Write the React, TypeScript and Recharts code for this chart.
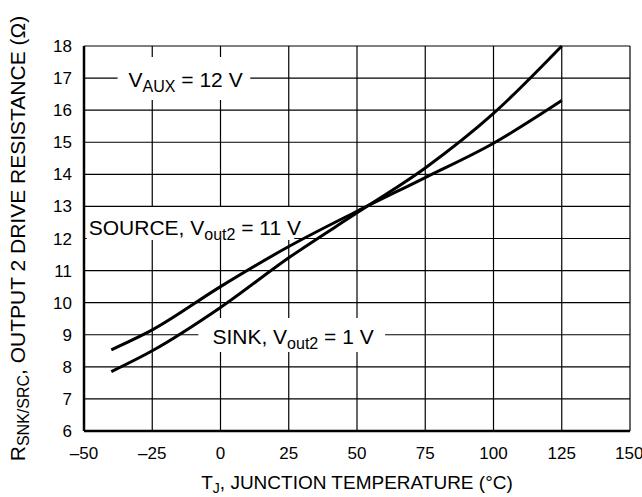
import { LineChart, Line, XAxis, YAxis, CartesianGrid, ReferenceArea, Label } from 'recharts';

// junction temperature (°C) and drive resistance (Ω)
const tempC = [-40, -25, 0, 25, 50, 75, 100, 125];
const sourceOhm = [8.53, 9.15, 10.5, 11.75, 12.85, 13.9, 14.97, 16.3];
const sinkOhm = [7.85, 8.5, 9.85, 11.4, 12.8, 14.2, 15.9, 18.0];

const xTicks = [-50, -25, 0, 25, 50, 75, 100, 125, 150];
const yTicks = [6, 7, 8, 9, 10, 11, 12, 13, 14, 15, 16, 17, 18];

const sourceData = tempC.map((t, i) => ({ t, r: sourceOhm[i] }));
const sinkData = tempC.map((t, i) => ({ t, r: sinkOhm[i] }));

const FONT = '"Liberation Sans", Arial, Helvetica, sans-serif';

function Note(props: any) {
    const { viewBox, main, sub, rest, dx, dy } = props;
    if (!viewBox) return null;
    return (
        <text x={viewBox.x + dx} y={viewBox.y + dy} fontFamily={FONT} fontSize={21} fill="#000">
            <tspan>{main}</tspan>
            <tspan fontSize={16} dy={5}>{sub}</tspan>
            <tspan dy={-5}>{rest}</tspan>
        </text>
    );
}

function XTitle(props: any) {
    const { viewBox } = props;
    return (
        <text x={viewBox.x + viewBox.width / 2} y={viewBox.y + 58} textAnchor="middle" fontFamily={FONT} fontSize={19} fill="#000">
            <tspan>T</tspan>
            <tspan fontSize={14} dy={4}>J</tspan>
            <tspan dy={-4}>, JUNCTION TEMPERATURE (°C)</tspan>
        </text>
    );
}

function YTitle(props: any) {
    const { viewBox } = props;
    const cx = 25;
    const cy = viewBox.y + viewBox.height / 2;
    return (
        <text x={cx} y={cy} transform={`rotate(-90 ${cx} ${cy})`} textAnchor="middle" fontFamily={FONT} fontSize={21} fill="#000">
            <tspan>R</tspan>
            <tspan fontSize={16} dy={4}>SNK/SRC</tspan>
            <tspan dy={-4}>, OUTPUT 2 DRIVE RESISTANCE (Ω)</tspan>
        </text>
    );
}

export default function App() {
    return (
        <div style={{ width: 642, height: 497, background: '#fff' }}>
            <style>{'body{margin:0;}'}</style>
            <LineChart width={642} height={497} margin={{ top: 46, right: 12, bottom: 0, left: 0 }}>
                <CartesianGrid stroke="#000" strokeWidth={1.2} />
                <XAxis
                    type="number"
                    dataKey="t"
                    domain={[-50, 150]}
                    ticks={xTicks}
                    allowDuplicatedCategory={false}
                    height={66}
                    tickLine={false}
                    tickMargin={10}
                    axisLine={{ stroke: '#000', strokeWidth: 2.5 }}
                    tick={{ fill: '#000', fontSize: 17, fontFamily: FONT }}
                    tickFormatter={(v: number) => (v < 0 ? `–${Math.abs(v)}` : `${v}`)}
                >
                    <Label content={<XTitle />} />
                </XAxis>
                <YAxis
                    type="number"
                    domain={[6, 18]}
                    ticks={yTicks}
                    width={84}
                    tickLine={false}
                    tickMargin={6}
                    axisLine={{ stroke: '#000', strokeWidth: 2.5 }}
                    tick={{ fill: '#000', fontSize: 17, fontFamily: FONT }}
                >
                    <Label content={<YTitle />} />
                </YAxis>

                <ReferenceArea x1={-37.7} x2={10.9} y1={16.32} y2={17.66} fill="#fff" fillOpacity={1} stroke="none"
                    label={<Note main="V" sub="AUX" rest=" = 12 V" dx={11} dy={30} />} />
                <ReferenceArea x1={-49} x2={27} y1={11.95} y2={12.98} fill="#fff" fillOpacity={1} stroke="none"
                    label={<Note main="SOURCE, V" sub="out2" rest=" = 11 V" dx={2} dy={28} />} />
                <ReferenceArea x1={-8.1} x2={60.3} y1={8.46} y2={9.52} fill="#fff" fillOpacity={1} stroke="none"
                    label={<Note main="SINK, V" sub="out2" rest=" = 1 V" dx={14} dy={26} />} />

                <Line data={sourceData} dataKey="r" type="monotone" stroke="#000" strokeWidth={3} dot={false} isAnimationActive={false} />
                <Line data={sinkData} dataKey="r" type="monotone" stroke="#000" strokeWidth={3} dot={false} isAnimationActive={false} />
            </LineChart>
        </div>
    );
}
